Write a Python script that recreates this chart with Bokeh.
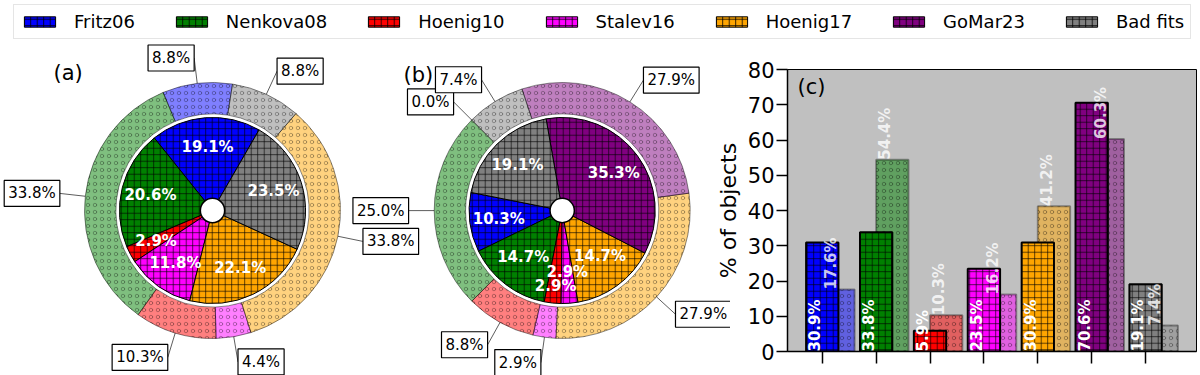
import numpy as np
from bokeh.plotting import figure
from bokeh.models import (Range1d, Legend, LegendItem, Label, FixedTicker,
                          SingleIntervalTicker, ColumnDataSource, CustomJSTickFormatter)
from bokeh.layouts import column, row
from bokeh.embed import file_html
from bokeh.resources import INLINE
from bokeh.core.properties import value

# ---------------- data ----------------
models = ["Fritz06", "Nenkova08", "Hoenig10", "Stalev16", "Hoenig17", "GoMar23", "Bad fits"]
colors = ["blue", "green", "red", "magenta", "orange", "purple", "gray"]

pie_a_inner = [19.1, 20.6, 2.9, 11.8, 22.1, None, 23.5]
pie_a_outer = [8.8, 33.8, 10.3, 4.4, 33.8, None, 8.8]
pie_b_inner = [10.3, 14.7, 2.9, 2.9, 14.7, 35.3, 19.1]
pie_b_outer = [0.0, 25.0, 8.8, 2.9, 27.9, 27.9, 7.4]

bar_dark = [30.9, 33.8, 5.9, 23.5, 30.9, 70.6, 19.1]
bar_light = [17.6, 54.4, 10.3, 16.2, 41.2, 60.3, 7.4]

# ---------------- style / layout ----------------
FONT = "DejaVu Sans"
PX = 128.0            # pixels per unit radius in the pie panel
R_OUT, R_RING_IN, R_IN, R_HOLE = 1.0, 0.755, 0.727, 0.095
LBL_DIST = 1.2
PCT_DIST = 0.5
START_A_IN, START_A_OUT = 60.0, 81.0
START_B_IN, START_B_OUT = 168.8, 135.0
CX_A, CX_B = 0.0, 2.732

LEG_H = 40
ROW_H = 335
PIE_W = 730
BAR_W = 486
PIE_CX_PX, PIE_CY_PX = 212, 170   # pie (a) centre inside the pie canvas

BOLD_EM = {"%": 1.002, ".": 0.38}


def wedge_angles(vals, start_deg):
    v = np.array([0.0 if x is None else x for x in vals], float)
    frac = v / v.sum()
    ends = np.deg2rad(start_deg) + 2 * np.pi * np.cumsum(frac)
    starts = ends - 2 * np.pi * frac
    return starts, ends


def text_w(t, size=15):
    return size * sum(BOLD_EM.get(ch, 0.696) for ch in t)


def spread(xs, ys, ws, h=15.0, iters=80):
    """simple pairwise repulsion of label boxes (pixel units)"""
    xs, ys = np.array(xs, float), np.array(ys, float)
    n = len(xs)
    for _ in range(iters):
        moved = False
        for i in range(n):
            for j in range(i + 1, n):
                ox = (ws[i] + ws[j]) / 2 - abs(xs[i] - xs[j])
                oy = h - abs(ys[i] - ys[j])
                if ox > 0.5 and oy > 0.5:
                    moved = True
                    if ox < oy:
                        d = ox / 2 * (1 if xs[i] >= xs[j] else -1)
                        xs[i] += d
                        xs[j] -= d
                    else:
                        d = oy / 2 * (1 if ys[i] >= ys[j] else -1)
                        ys[i] += d
                        ys[j] -= d
        if not moved:
            break
    return xs, ys


# ---------------- legend figure ----------------
leg = figure(width=1198, height=LEG_H, x_range=Range1d(0, 1), y_range=Range1d(1, 2),
             toolbar_location=None, output_backend="svg", min_border=0,
             outline_line_color=None, x_axis_type=None, y_axis_type=None)
items = []
for i, (m, c) in enumerate(zip(models, colors)):
    # legend proxy: a zero-height bar outside the visible range
    r = leg.vbar(x=[i], top=[0], width=0.1, fill_color=c, line_color="black", line_width=1,
                 hatch_pattern="+", hatch_color="black", hatch_scale=6.5, hatch_weight=0.8)
    items.append(LegendItem(label=m, renderers=[r]))
legend = Legend(items=items, orientation="horizontal", location=(13, 1),
                glyph_width=39, glyph_height=13, label_standoff=15, spacing=37,
                padding=6, margin=0, label_text_font=FONT, label_text_font_size="18px",
                label_text_color="black", border_line_color="#cccccc", border_line_width=1,
                background_fill_color="white")
leg.add_layout(legend)

# ---------------- pie figure ----------------
x0 = -PIE_CX_PX / PX
y1 = PIE_CY_PX / PX
pie = figure(width=PIE_W, height=ROW_H,
             x_range=Range1d(x0, x0 + PIE_W / PX), y_range=Range1d(y1 - ROW_H / PX, y1),
             toolbar_location=None, output_backend="svg", min_border=0,
             outline_line_color=None, x_axis_type=None, y_axis_type=None)
pie.frame_align = False


def draw_pie(p, cx, inner_vals, outer_vals, in_start, out_start):
    # outer ring
    s, e = wedge_angles(outer_vals, out_start)
    idx = [i for i, v in enumerate(outer_vals) if v is not None]
    drw = [i for i in idx if outer_vals[i] > 0]
    src = ColumnDataSource(dict(x=[cx] * len(drw), y=[0.0] * len(drw),
                                s=s[drw], e=e[drw], c=[colors[i] for i in drw]))
    p.annular_wedge(x="x", y="y", inner_radius=R_RING_IN, outer_radius=R_OUT,
                    start_angle="s", end_angle="e", fill_color="c", fill_alpha=0.5,
                    line_color="black", line_alpha=0.45, line_width=1,
                    hatch_pattern="o", hatch_color="black", hatch_alpha=0.35,
                    hatch_scale=7, hatch_weight=0.8, source=src)
    mid = (s[idx] + e[idx]) / 2
    cs, sn = np.cos(mid), np.sin(mid)
    p.segment(x0=cx + R_OUT * cs, y0=R_OUT * sn, x1=cx + LBL_DIST * cs, y1=LBL_DIST * sn,
              line_color="black", line_width=0.8, line_alpha=0.8)
    for k, i in enumerate(idx):
        p.add_layout(Label(x=cx + LBL_DIST * cs[k], y=LBL_DIST * sn[k],
                           text=f"{outer_vals[i]:.1f}%",
                           text_align="right" if cs[k] < 0 else "left",
                           text_baseline="middle", text_font=FONT, text_font_size="15px",
                           text_color="black", background_fill_color="white",
                           border_line_color="black", border_line_width=1.2, padding=4))

    # inner pie
    s, e = wedge_angles(inner_vals, in_start)
    idx = [i for i, v in enumerate(inner_vals) if v is not None]
    src = ColumnDataSource(dict(x=[cx] * len(idx), y=[0.0] * len(idx),
                                s=s[idx], e=e[idx], c=[colors[i] for i in idx]))
    p.wedge(x="x", y="y", radius=R_IN, start_angle="s", end_angle="e", fill_color="c",
            line_color="black", line_width=1, hatch_pattern="+", hatch_color="black",
            hatch_alpha=0.9, hatch_scale=6.5, hatch_weight=0.7, source=src)
    p.circle(x=[cx], y=[0.0], radius=R_HOLE, fill_color="white", line_color="black",
             line_width=1.5)
    mid = (s[idx] + e[idx]) / 2
    texts = [f"{inner_vals[i]:.1f}%" for i in idx]
    lx, ly = spread(PCT_DIST * PX * np.cos(mid), PCT_DIST * PX * np.sin(mid),
                    [text_w(t) for t in texts])
    isrc = ColumnDataSource(dict(x=cx + lx / PX, y=ly / PX, t=texts))
    p.text(x="x", y="y", text="t", text_align="center", text_baseline="middle",
           text_font=value(FONT), text_font_size="15px", text_font_style="bold",
           text_color="white", source=isrc)


draw_pie(pie, CX_A, pie_a_inner, pie_a_outer, START_A_IN, START_A_OUT)
draw_pie(pie, CX_B, pie_b_inner, pie_b_outer, START_B_IN, START_B_OUT)

pie.add_layout(Label(x=53, y=ROW_H - 20, x_units="screen", y_units="screen", text="(a)",
                     text_baseline="top", text_font=FONT, text_font_size="21px",
                     text_color="black"))
pie.add_layout(Label(x=403, y=ROW_H - 22, x_units="screen", y_units="screen", text="(b)",
                     text_baseline="top", text_font=FONT, text_font_size="21px",
                     text_color="black"))

# ---------------- bar figure ----------------
xb = np.arange(len(models), dtype=float)
bw = 0.6
off = bw / 2
lo = xb.min() - bw / 2
hi = xb.max() + off + bw / 2
pad = 0.05 * (hi - lo)

bar = figure(width=BAR_W, height=ROW_H, x_range=Range1d(lo - pad, hi + pad),
             y_range=Range1d(0, 80), toolbar_location=None, output_backend="svg",
             min_border_left=73, min_border_right=2, min_border_top=29,
             min_border_bottom=24,
             background_fill_color="#c0c0c0", border_fill_alpha=0,
             outline_line_color="black", outline_line_width=1)
bar.frame_align = False
bar.margin = (0, 0, 0, -18)
bar.grid.visible = False

bsrc = ColumnDataSource(dict(x=xb, xl=xb + off, dark=bar_dark, light=bar_light, c=colors,
                             td=[f"{v:.1f}%" for v in bar_dark],
                             tl=[f"{v:.1f}%" for v in bar_light],
                             xdl=xb - bw / 2, xll=xb + off - bw / 2,
                             zero=[0.0] * len(xb)))
bar.vbar(x="xl", top="light", width=bw, fill_color="c", fill_alpha=0.5,
         line_color="black", line_alpha=0.35, line_width=2,
         hatch_pattern="o", hatch_color="black", hatch_alpha=0.35, hatch_scale=7,
         hatch_weight=0.8, source=bsrc)
bar.vbar(x="x", top="dark", width=bw, fill_color="c", line_color="black", line_width=2,
         hatch_pattern="+", hatch_color="black", hatch_alpha=0.9, hatch_scale=6.5,
         hatch_weight=0.7, source=bsrc)
bar.text(x="xdl", y="zero", text="td", angle=np.pi / 2, text_align="left",
         text_baseline="top", text_font=value(FONT), text_font_size="15px",
         text_font_style="bold", text_color="white", source=bsrc)
bar.text(x="xll", y="light", text="tl", angle=np.pi / 2, text_align="left",
         text_baseline="top", text_font=value(FONT), text_font_size="15px",
         text_font_style="bold", text_color="white", text_alpha=0.8, source=bsrc)

bar.xaxis.ticker = FixedTicker(ticks=list(xb))
bar.xaxis.formatter = CustomJSTickFormatter(code="return ''")
bar.xaxis.major_label_standoff = 0
bar.xaxis.major_tick_out = 12
bar.xaxis.major_tick_in = 0
bar.xaxis.minor_tick_line_color = None
bar.xaxis.axis_line_width = 1.5
bar.xaxis.major_tick_line_width = 1.5

bar.yaxis.ticker = SingleIntervalTicker(interval=10)
bar.yaxis.major_label_text_font = FONT
bar.yaxis.major_label_text_font_size = "21px"
bar.yaxis.major_label_text_color = "black"
bar.yaxis.major_label_standoff = 2
bar.yaxis.major_tick_out = 11
bar.yaxis.major_tick_in = 0
bar.yaxis.minor_tick_line_color = None
bar.yaxis.axis_line_width = 1.5
bar.yaxis.major_tick_line_width = 1.5
bar.yaxis.axis_label = "% of objects"
bar.yaxis.axis_label_text_font = FONT
bar.yaxis.axis_label_text_font_size = "22px"
bar.yaxis.axis_label_text_font_style = "normal"
bar.yaxis.axis_label_text_color = "black"
bar.yaxis.axis_label_standoff = 4

bar.add_layout(Label(x=10, y=277, x_units="screen", y_units="screen", text="(c)",
                     text_baseline="top", text_font=FONT, text_font_size="21px",
                     text_color="black"))

layout = column(leg, row(pie, bar))
open("out.html", "w").write(file_html(layout, INLINE))
